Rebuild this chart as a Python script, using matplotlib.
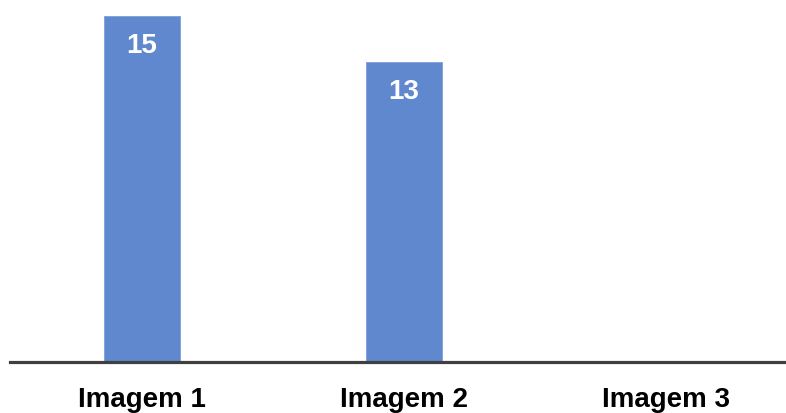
import matplotlib
matplotlib.use("Agg")
import matplotlib.pyplot as plt

categories = ["Imagem 1", "Imagem 2", "Imagem 3"]
values = [15, 13, 0]

plt.rcParams['font.family'] = ['Liberation Sans', 'DejaVu Sans']

fig = plt.figure(figsize=(7.86, 4.14), dpi=100)
ax = fig.add_axes([10 / 786, (414 - 363) / 414, 776 / 786, 363 / 414])

x = list(range(len(categories)))
ax.bar(x, values, width=0.29, color='#6088CF', edgecolor='#7B9EDB', linewidth=0.6, zorder=2)

for xi, v in zip(x, values):
    if v > 0:
        ax.annotate(str(v), (xi, v), xytext=(0, -21), textcoords='offset points',
                    ha='center', va='center', color='white', fontsize=20, fontweight='bold')

ax.set_xlim(-0.504, 2.458)
ax.set_ylim(0, 15.74)
ax.set_xticks(x)
ax.set_xticklabels(categories, fontsize=20, fontweight='bold', color='black')
ax.tick_params(axis='x', length=0, pad=17)
ax.set_yticks([])
for side in ['top', 'left', 'right']:
    ax.spines[side].set_visible(False)
ax.spines['bottom'].set_color('#404040')
ax.spines['bottom'].set_linewidth(2.3)
ax.spines['bottom'].set_zorder(3)

fig.savefig('out.png', dpi=100)
